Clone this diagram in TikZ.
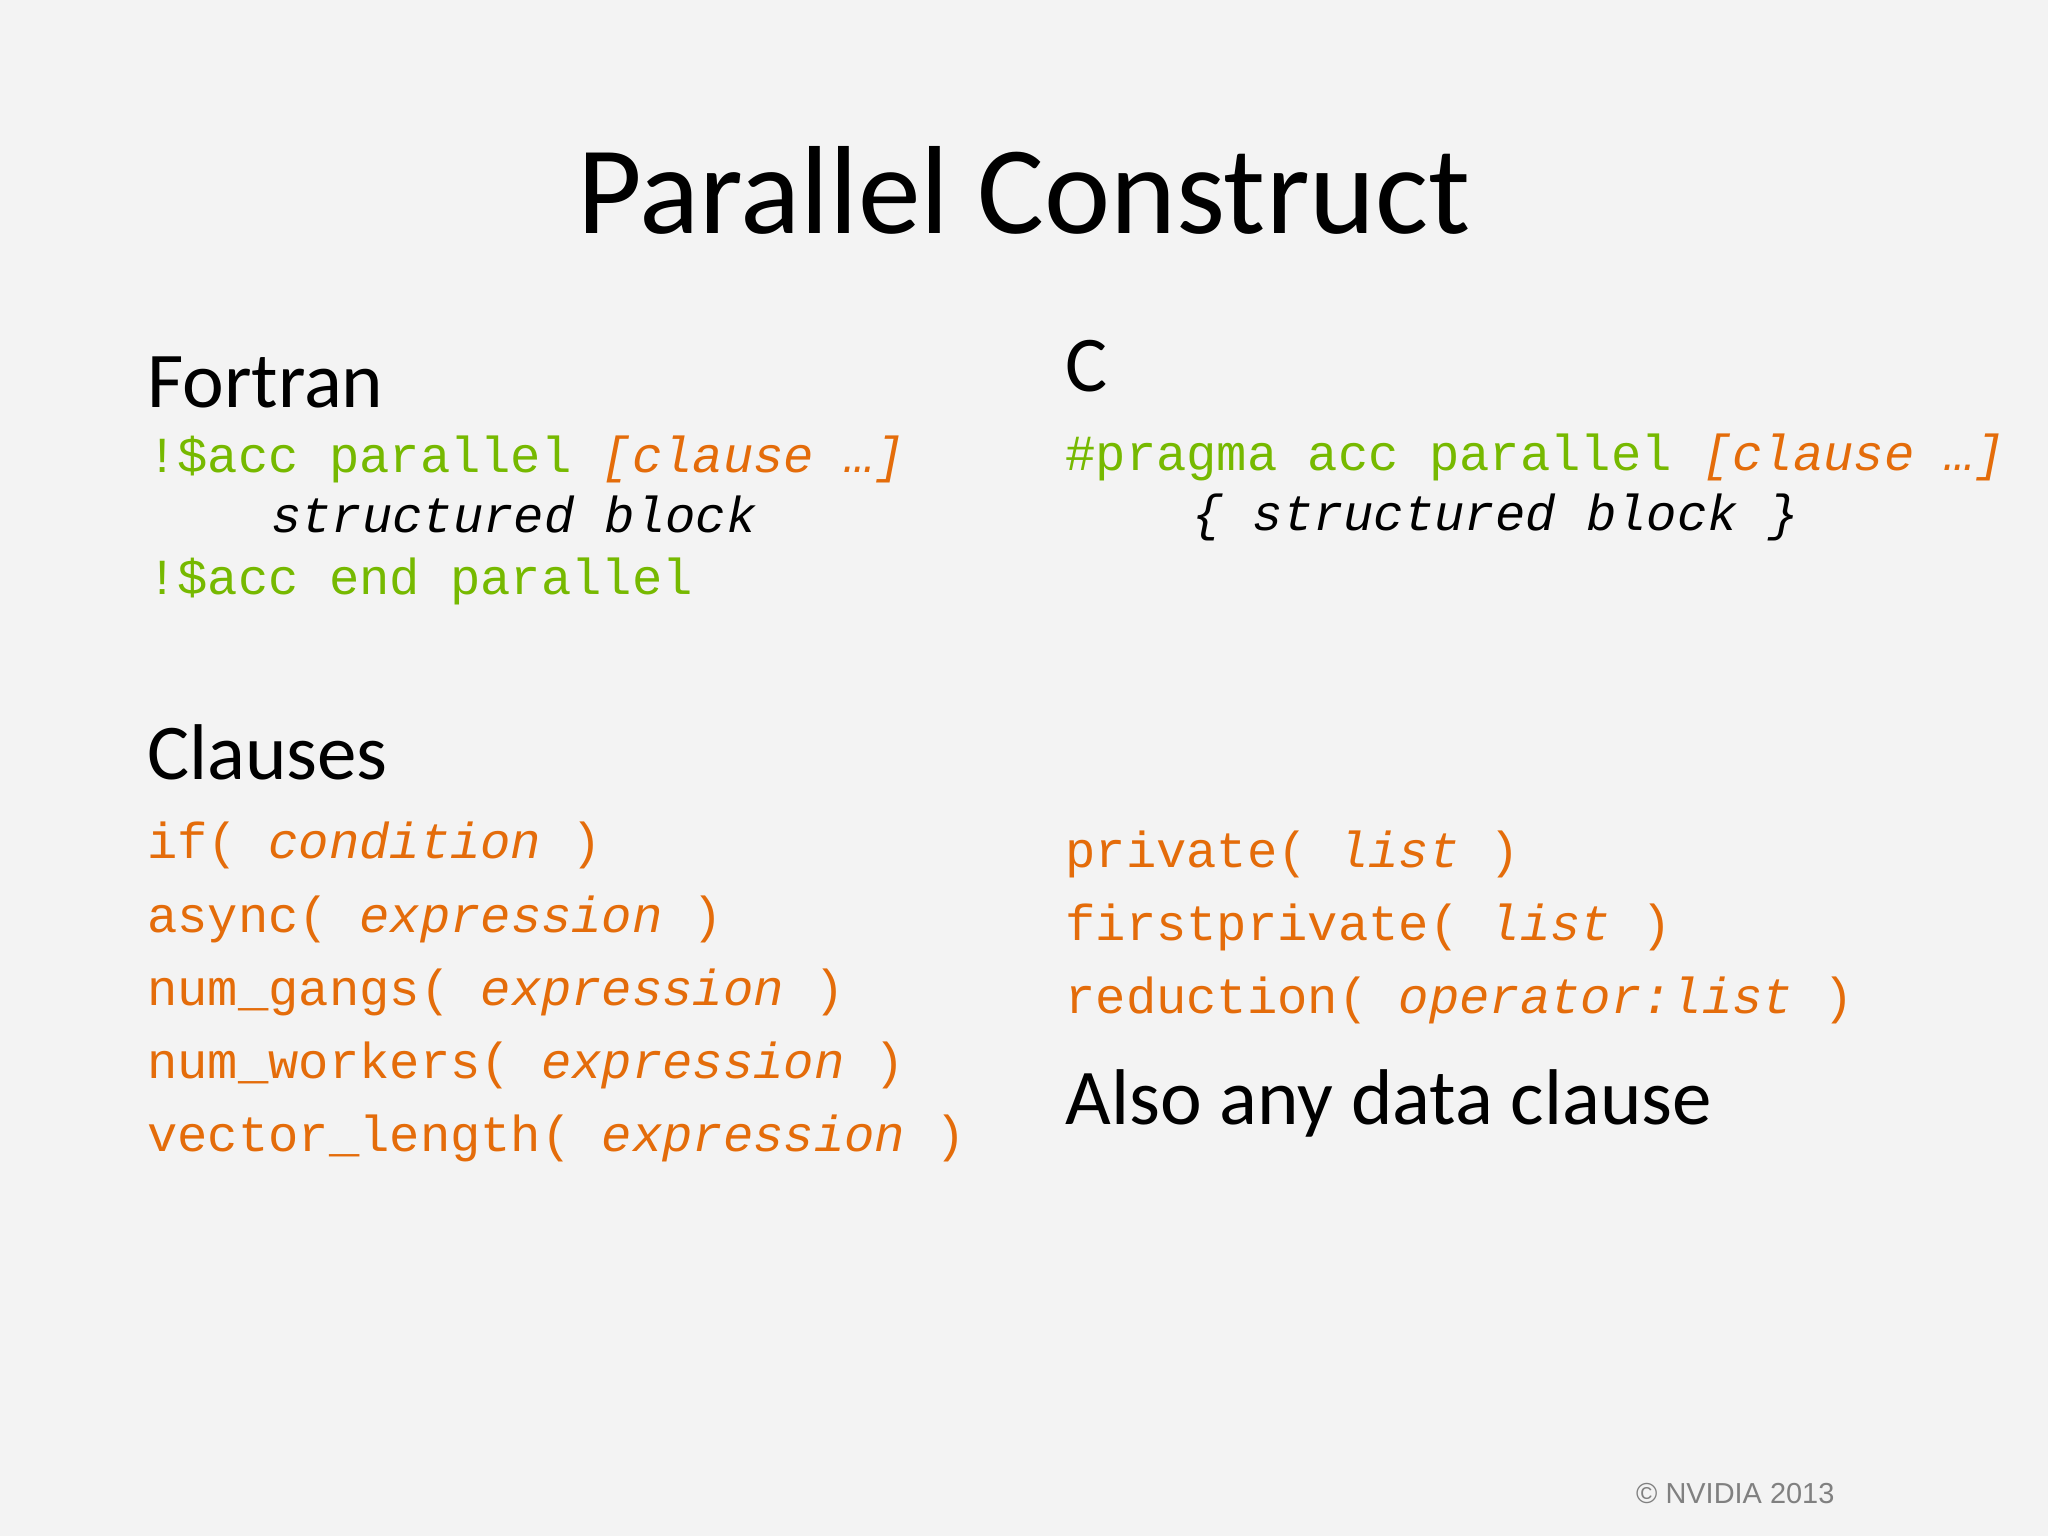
\documentclass[tikz,border=0pt]{standalone}
\usepackage{fontspec}
\setmainfont{Carlito}
\newfontfamily\codefont{Liberation Mono}
\newfontfamily\smallsans{Liberation Sans}
\definecolor{nvgreen}{RGB}{118,185,0}
\definecolor{clorange}{RGB}{228,108,10}
\definecolor{bgc}{RGB}{243,243,243}
\begin{document}
\begin{tikzpicture}[x=0.01cm,y=-0.01cm,
  txt/.style={inner sep=0pt,anchor=base west},
  head/.style={txt,font=\fontsize{17.2}{19}\selectfont},
  code/.style={txt,font=\codefont\fontsize{11}{12}\selectfont},
  gcode/.style={code,text=nvgreen},
  ocode/.style={code,text=clorange}]
\fill[bgc] (0,0) rectangle (1568,1176);
\node[inner sep=0pt,anchor=base,font=\fontsize{27.3}{30}\selectfont] (title) at (784,179) {Parallel Construct};
\node[head] (fortran) at (112,312) {Fortran};
\node[head] (c) at (815,300) {C};
\node[gcode] (f1) at (112,362) {!\$acc parallel \textcolor{clorange}{\itshape [clause …]}};
\node[code] (f2) at (207,408) {\itshape structured block};
\node[gcode] (f3) at (112,455) {!\$acc end parallel};
\node[gcode] (c1) at (815,360) {\#pragma acc parallel \textcolor{clorange}{\itshape [clause …]}};
\node[code] (c2) at (912,406) {\itshape \{ structured block \}};
\node[head] (clauses) at (112,597) {Clauses};
\node[ocode] (l1) at (112,657) {if( \textit{condition} )};
\node[ocode] (l2) at (112,714) {async( \textit{expression} )};
\node[ocode] (l3) at (112,770) {num\_gangs( \textit{expression} )};
\node[ocode] (l4) at (112,826) {num\_workers( \textit{expression} )};
\node[ocode] (l5) at (112,882) {vector\_length( \textit{expression} )};
\node[ocode] (r1) at (815,664) {private( \textit{list} )};
\node[ocode] (r2) at (815,720) {firstprivate( \textit{list} )};
\node[ocode] (r3) at (815,776) {reduction( \textit{operator:list} )};
\node[head] (also) at (815,861) {Also any data clause};
\node[txt,font=\smallsans\fontsize{6.3}{7}\selectfont,text=gray] (copy) at (1252,1151) {© NVIDIA 2013};
\end{tikzpicture}
\end{document}
